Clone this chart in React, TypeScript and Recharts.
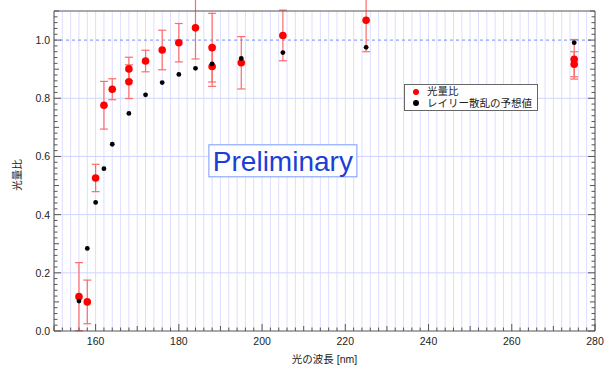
import React from "react";
import {
  ScatterChart,
  Scatter,
  XAxis,
  YAxis,
  CartesianGrid,
  ErrorBar,
  ReferenceLine,
  ReferenceDot,
  Legend,
} from "recharts";

// measured light-yield ratio (red) with errors
const ratioWavelength = [156, 158, 160, 162, 164, 168, 168, 172, 176, 180, 184, 188, 188, 195, 205, 225, 275, 275];
const ratioValue = [0.118, 0.1, 0.526, 0.776, 0.831, 0.901, 0.857, 0.928, 0.966, 0.991, 1.042, 0.974, 0.909, 0.922, 1.016, 1.068, 0.934, 0.917];
const ratioError = [0.117, 0.075, 0.047, 0.082, 0.036, 0.04, 0.058, 0.037, 0.068, 0.066, 0.107, 0.118, 0.068, 0.09, 0.087, 0.108, 0.068, 0.043];

// Rayleigh scattering expectation (black)
const rayleighWavelength = [156, 158, 160, 162, 164, 168, 172, 176, 180, 184, 188, 195, 205, 225, 275];
const rayleighValue = [0.103, 0.284, 0.442, 0.558, 0.642, 0.748, 0.812, 0.854, 0.882, 0.903, 0.918, 0.937, 0.957, 0.975, 0.991];

const seriesNames = ["光量比", "レイリー散乱の予想値"];

const xLabelTicks = [160, 180, 200, 220, 240, 260, 280];
const yLabelTicks = [0, 0.2, 0.4, 0.6, 0.8, 1.0];
const yGridLines = [0.2, 0.4, 0.6, 0.8];

const xMinorTicks: number[] = [];
for (let v = 150; v <= 280; v += 2) xMinorTicks.push(v);
const yMinorTicks: number[] = [];
for (let i = 0; i <= 55; i++) yMinorTicks.push(Math.round(i * 2) / 100);

const ratioData = ratioWavelength.map((w, i) => ({ x: w, y: ratioValue[i], err: ratioError[i] }));
const rayleighData = rayleighWavelength.map((w, i) => ({ x: w, y: rayleighValue[i] }));

const FONT = '"Liberation Sans", Arial, "Noto Sans CJK JP", sans-serif';
const AXIS = "#555";

const isMult = (v: number, m: number) => Math.abs(v / m - Math.round(v / m)) < 1e-6;

const xTickLen = (v: number) => (isMult(v, 20) ? 7 : isMult(v, 10) ? 5 : 3.5);
const yTickLen = (v: number) => (isMult(v, 0.2) ? 7 : isMult(v, 0.1) ? 5 : 3.5);

function BottomTick(props: any) {
  const { x, y, payload } = props;
  const v = payload.value;
  return (
    <g>
      <line x1={x} x2={x} y1={y} y2={y - xTickLen(v)} stroke={AXIS} />
      {xLabelTicks.includes(v) && (
        <text x={x} y={y + 14} textAnchor="middle" fontSize={10.5} fill="#222" fontFamily={FONT}>
          {v}
        </text>
      )}
    </g>
  );
}

function TopTick(props: any) {
  const { x, y, payload } = props;
  return <line x1={x} x2={x} y1={y} y2={y + xTickLen(payload.value)} stroke={AXIS} />;
}

function LeftTick(props: any) {
  const { x, y, payload } = props;
  const v = payload.value;
  const labeled = yLabelTicks.some((t) => Math.abs(t - v) < 1e-6);
  return (
    <g>
      <line x1={x} x2={x + yTickLen(v)} y1={y} y2={y} stroke={AXIS} />
      {labeled && (
        <text x={x - 4} y={y + 4} textAnchor="end" fontSize={10.5} fill="#222" fontFamily={FONT}>
          {v.toFixed(1)}
        </text>
      )}
    </g>
  );
}

function RightTick(props: any) {
  const { x, y, payload } = props;
  return <line x1={x} x2={x - yTickLen(payload.value)} y1={y} y2={y} stroke={AXIS} />;
}

function LegendBox({ payload }: any) {
  const items = [...(payload || [])].sort(
    (a: any, b: any) => seriesNames.indexOf(a.value) - seriesNames.indexOf(b.value)
  );
  return (
    <div
      style={{
        border: "1.5px solid #666",
        background: "#fff",
        padding: "1px 5px 1px 8px",
        fontFamily: FONT,
        fontSize: 10.5,
        lineHeight: "11.5px",
        color: "#222",
      }}
    >
      {items.map((p: any) => (
        <div key={p.value} style={{ display: "flex", alignItems: "center" }}>
          <span
            style={{
              width: 6,
              height: 6,
              borderRadius: 3,
              background: p.color,
              display: "inline-block",
              marginRight: 8,
            }}
          />
          {p.value}
        </div>
      ))}
    </div>
  );
}

function PreliminaryMark(props: any) {
  const { cx, cy } = props;
  return (
    <g>
      <rect x={cx - 74} y={cy - 16} width={148} height={32} fill="#fff" stroke="#7799ff" strokeWidth={1} />
      <text x={cx} y={cy + 10} textAnchor="middle" fontSize={28} fill="#1a40d6" fontFamily={FONT}>
        Preliminary
      </text>
    </g>
  );
}

export default function App() {
  return (
    <div style={{ position: "absolute", left: 0, top: 0, width: 606, height: 367, background: "#fff" }}>
      <ScatterChart width={606} height={367} margin={{ top: 0, right: 0, bottom: 0, left: 0 }}>
        <CartesianGrid xAxisId="x" yAxisId="y" stroke="#dedeff" horizontal={false} vertical />
        <XAxis
          xAxisId="x"
          dataKey="x"
          type="number"
          domain={[150, 280]}
          allowDataOverflow
          ticks={xMinorTicks}
          interval={0}
          tickSize={0}
          tickMargin={0}
          tick={<BottomTick />}
          tickLine={false}
          axisLine={{ stroke: AXIS }}
          height={36}
          label={{
            content: ({ viewBox }: any) => (
              <text
                x={viewBox.x + viewBox.width / 2}
                y={viewBox.y + 32}
                textAnchor="middle"
                fontSize={10.5}
                fill="#222"
                fontFamily={FONT}
              >
                光の波長 [nm]
              </text>
            ),
          }}
        />
        <XAxis
          xAxisId="top"
          orientation="top"
          type="number"
          domain={[150, 280]}
          allowDataOverflow
          ticks={xMinorTicks}
          interval={0}
          tickSize={0}
          tickMargin={0}
          tick={<TopTick />}
          tickLine={false}
          axisLine={{ stroke: AXIS }}
          height={11}
        />
        <YAxis
          yAxisId="y"
          dataKey="y"
          type="number"
          domain={[0, 1.1]}
          allowDataOverflow
          ticks={yMinorTicks}
          interval={0}
          tickSize={0}
          tickMargin={0}
          tick={<LeftTick />}
          tickLine={false}
          axisLine={{ stroke: AXIS }}
          width={54}
          label={{
            content: ({ viewBox }: any) => (
              <text
                x={viewBox.x + 21}
                y={viewBox.y + viewBox.height / 2 + 4}
                transform={`rotate(-90 ${viewBox.x + 21} ${viewBox.y + viewBox.height / 2 + 4})`}
                textAnchor="middle"
                fontSize={10.5}
                fill="#222"
                fontFamily={FONT}
              >
                光量比
              </text>
            ),
          }}
        />
        <YAxis
          yAxisId="right"
          orientation="right"
          type="number"
          domain={[0, 1.1]}
          allowDataOverflow
          ticks={yMinorTicks}
          interval={0}
          tickSize={0}
          tickMargin={0}
          tick={<RightTick />}
          tickLine={false}
          axisLine={{ stroke: AXIS }}
          width={11}
        />
        {yGridLines.map((v) => (
          <ReferenceLine key={v} xAxisId="x" yAxisId="y" y={v} stroke="#d0d4ff" strokeWidth={1} />
        ))}
        <ReferenceLine xAxisId="x" yAxisId="y" y={1} stroke="#6f8cff" strokeDasharray="3 3" />
        <ReferenceDot xAxisId="x" yAxisId="y" x={205} y={0.585} r={0} shape={<PreliminaryMark />} />
        <Legend
          layout="vertical"
          align="center"
          verticalAlign="middle"
          wrapperStyle={{ left: 404, top: 84, width: "auto" }}
          content={<LegendBox />}
        />
        <Scatter
          name="光量比"
          xAxisId="x"
          yAxisId="y"
          data={ratioData}
          fill="#ff0000"
          isAnimationActive={false}
          shape={(p: any) => <circle cx={p.cx} cy={p.cy} r={3.8} fill="#ff0000" />}
        >
          <ErrorBar dataKey="err" direction="y" width={4} stroke="#ff6a6a" strokeWidth={1.2} />
        </Scatter>
        <Scatter
          name="レイリー散乱の予想値"
          xAxisId="x"
          yAxisId="y"
          data={rayleighData}
          fill="#000"
          isAnimationActive={false}
          shape={(p: any) => <circle cx={p.cx} cy={p.cy} r={2.4} fill="#000" />}
        />
      </ScatterChart>
    </div>
  );
}
